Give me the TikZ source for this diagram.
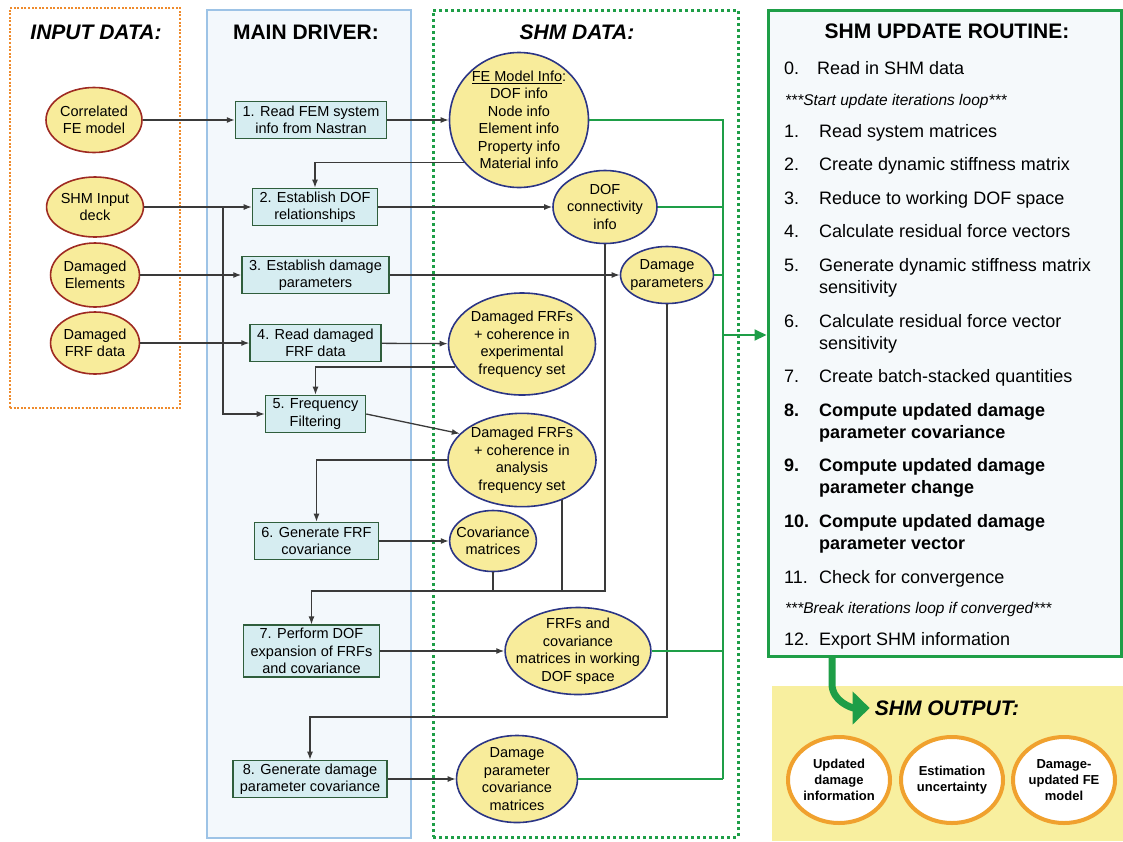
\documentclass[tikz,border=0pt]{standalone}
\usepackage{fontspec}
\setmainfont{Liberation Sans}
\usetikzlibrary{shapes.geometric,arrows.meta}

\definecolor{inorange}{HTML}{EF8B2C}
\definecolor{drvblue}{HTML}{9DC3E6}
\definecolor{drvfill}{HTML}{F3F8FC}
\definecolor{shmgreen}{HTML}{1E9E47}
\definecolor{routfill}{HTML}{F5F9FB}
\definecolor{outyellow}{HTML}{F8EF9F}
\definecolor{elyellow}{HTML}{F8EC9B}
\definecolor{inred}{HTML}{9E2A22}
\definecolor{elnavy}{HTML}{2B3585}
\definecolor{boxfill}{HTML}{D6EDF1}
\definecolor{boxgreen}{HTML}{2F5E3C}
\definecolor{outorange}{HTML}{F0A12E}
\definecolor{linegray}{HTML}{3A3A3A}

\begin{document}
\begin{tikzpicture}[x=1pt,y=-1pt,>={Latex[length=8pt,width=6pt]},
    every node/.style={font=\fontsize{14.5}{17.5}\selectfont},
    ptitle/.style={font=\fontsize{21}{25}\selectfont\bfseries},
    ititle/.style={font=\fontsize{21}{25}\selectfont\bfseries\itshape},
    indata/.style={ellipse,draw=inred,line width=1.6pt,fill=elyellow,align=center,inner sep=0pt},
    shmdata/.style={ellipse,draw=elnavy,line width=1.6pt,fill=elyellow,align=center,inner sep=0pt},
    drvbox/.style={draw=boxgreen,line width=1.6pt,fill=boxfill,align=center,inner xsep=7pt,inner ysep=3pt,minimum height=37pt},
    result/.style={ellipse,draw=outorange,line width=4pt,fill=white,align=center,inner sep=0pt,
        minimum width=102pt,minimum height=86pt,font=\fontsize{13}{16}\selectfont\bfseries},
    link/.style={draw=linegray,line width=1.3pt},
    glink/.style={draw=shmgreen,line width=2pt},
    num/.style={anchor=base west,inner sep=0pt,font=\fontsize{18}{22}\selectfont},
    item/.style={anchor=base west,inner sep=0pt,align=left,font=\fontsize{18}{22}\selectfont},
    bitem/.style={anchor=west,inner sep=0pt,align=left,font=\fontsize{18}{22}\selectfont\bfseries},
    note/.style={anchor=base west,inner sep=0pt,font=\fontsize{15.5}{18}\selectfont\itshape}]

    \useasboundingbox (0,0) rectangle (1123,841);

    \node[draw=inorange,line width=2pt,dash pattern=on 2pt off 1.6pt,minimum width=170pt,minimum height=400pt] (INP) at (95,208) {};
    \node[draw=drvblue,fill=drvfill,line width=1.5pt,minimum width=204pt,minimum height=828pt] (DRV) at (309,424) {};
    \node[draw=shmgreen,line width=3pt,dash pattern=on 3pt off 3pt,minimum width=305pt,minimum height=827pt] (SHM) at (585.5,423.5) {};
    \node[draw=shmgreen,fill=routfill,line width=3pt,minimum width=353pt,minimum height=646pt] (UR) at (944.5,333) {};
    \node[fill=outyellow,minimum width=351pt,minimum height=155pt] (OUT) at (947.5,763.5) {};

    \node[ititle] (INT) at (96,32) {INPUT DATA:};
    \node[ptitle] (DRT) at (306,32) {MAIN DRIVER:};
    \node[ititle] (SHT) at (577,32) {SHM DATA:};
    \node[ptitle] (URT) at (947,31) {SHM UPDATE ROUTINE:};
    \node[ititle,inner sep=1pt] (OT) at (947,708) {SHM OUTPUT:};

    \node[indata,minimum width=96pt,minimum height=65pt] (CFE) at (94,120) {Correlated\\FE model};
    \node[indata,minimum width=96pt,minimum height=60pt] (SID) at (95,207) {SHM Input\\deck};
    \node[indata,minimum width=87pt,minimum height=64pt] (DE) at (95,275) {Damaged\\Elements};
    \node[indata,minimum width=87pt,minimum height=62pt] (DFD) at (95,343) {Damaged\\FRF data};

    \node[drvbox] (B1) at (311,120) {1. Read FEM system\\info from Nastran};
    \node[drvbox] (B2) at (315,207) {2. Establish DOF\\relationships};
    \node[drvbox] (B3) at (315.5,275) {3. Establish damage\\parameters};
    \node[drvbox] (B4) at (315.5,343) {4. Read damaged\\FRF data};
    \node[drvbox] (B5) at (315.5,414) {5. Frequency\\Filtering};
    \node[drvbox] (B6) at (316.5,541) {6. Generate FRF\\covariance};
    \node[drvbox] (B7) at (311.5,651) {7. Perform DOF\\expansion of FRFs\\and covariance};
    \node[drvbox] (B8) at (310,779) {8. Generate damage\\parameter covariance};

    \node[shmdata,minimum width=139pt,minimum height=135pt,inner ysep=-3pt] (FEI) at (519,120)
        {\underline{FE Model Info}:\\DOF info\\Node info\\Element info\\Property info\\Material info};
    \node[shmdata,minimum width=104pt,minimum height=73pt,inner xsep=-2pt] (DOFC) at (605,207) {DOF\\connectivity\\info};
    \node[shmdata,minimum width=93pt,minimum height=57pt,inner xsep=-4pt] (DP) at (667,275) {Damage\\parameters};
    \node[shmdata,minimum width=147pt,minimum height=102pt] (FX) at (522,344) {Damaged FRFs\\+ coherence in\\experimental\\frequency set};
    \node[shmdata,minimum width=148pt,minimum height=92pt] (FA) at (522,460) {Damaged FRFs\\+ coherence in\\analysis\\frequency set};
    \node[shmdata,minimum width=86pt,minimum height=61pt,inner xsep=-6pt] (CM) at (493,541) {Covariance\\matrices};
    \node[shmdata,minimum width=145pt,minimum height=87pt,inner xsep=-10.5pt,inner ysep=-2.5pt] (FW) at (578,651)
        {FRFs and\\covariance\\matrices in working\\DOF space};
    \node[shmdata,minimum width=121pt,minimum height=87pt,inner ysep=-2.5pt] (DPC) at (517,779) {Damage\\parameter\\covariance\\matrices};

    \draw[link,->] (CFE) -- (B1);
    \draw[link,->] (B1) -- (FEI);
    \draw[link,->] (FEI.218) -| (B2.north);
    \draw[link,->] (SID) -- (B2);
    \coordinate (SPL) at (223,207);
    \draw[link,->] (SPL) |- (B5.west);
    \draw[link,->] (B2) -- (DOFC);
    \draw[link,->] (DE) -- (B3);
    \draw[link,->] (B3) -- (DP);
    \draw[link,->] (DFD) -- (B4);
    \draw[link,->] (B4) -- (FX);
    \draw[link,->] (FX.199) -| (B5.north);
    \draw[link,->] (B5.east) -- (FA.157);
    \draw[link,->] (FA.west) -| (B6.north);
    \draw[link,->] (B6) -- (CM);
    \coordinate (M7) at (605,591);
    \draw[link,->] (DOFC.south) -- (M7) -| (B7.north);
    \draw[link] (FA.-45) -- (FA.-45 |- M7);
    \draw[link] (CM.south) -- (CM.south |- M7);
    \draw[link,->] (B7) -- (FW);
    \coordinate (M8) at (667,717);
    \draw[link,->] (DP.south) -- (M8) -| (B8.north);
    \draw[link,->] (B8) -- (DPC);

    \coordinate (BUS) at (723,335);
    \draw[glink] (FEI) -- (FEI -| BUS) -- (DPC -| BUS);
    \draw[glink] (DOFC) -- (DOFC -| BUS);
    \draw[glink] (DP) -- (DP -| BUS);
    \draw[glink] (FW) -- (FW -| BUS);
    \draw[glink] (DPC) -- (DPC -| BUS);
    \draw[glink,-{Triangle[length=12pt,width=11pt]}] (BUS) -- (BUS -| UR.west);

    \foreach \n/\y in {0/74,1/137,2/170,3/204,4/237,5/271,6/327,7/382,11/583,12/645}
        \node[num] (N\n) at (784,\y) {\n.};
    \foreach \n/\y in {8/416,9/471,10/527}
        \node[num,font=\fontsize{18}{22}\selectfont\bfseries] (N\n) at (784,\y) {\n.};

    \node[item] (R0) at (817,74) {Read in SHM data};
    \node[note] (LS) at (785,105) {***Start update iterations loop***};
    \node[item] (R1) at (819,137) {Read system matrices};
    \node[item] (R2) at (819,170) {Create dynamic stiffness matrix};
    \node[item] (R3) at (819,204) {Reduce to working DOF space};
    \node[item] (R4) at (819,237) {Calculate residual force vectors};
    \node[item,anchor=west] (R5) at (819,277.4) {Generate dynamic stiffness matrix\\sensitivity};
    \node[item,anchor=west] (R6) at (819,333.4) {Calculate residual force vector\\sensitivity};
    \node[item] (R7) at (819,382) {Create batch-stacked quantities};
    \node[bitem] (R8) at (819,422.4) {Compute updated damage\\parameter covariance};
    \node[bitem] (R9) at (819,477.4) {Compute updated damage\\parameter change};
    \node[bitem] (R10) at (819,533.4) {Compute updated damage\\parameter vector};
    \node[item] (R11) at (819,583) {Check for convergence};
    \node[note] (LE) at (785,613) {***Break iterations loop if converged***};
    \node[item] (R12) at (819,645) {Export SHM information};

    \coordinate (UO) at (832,657);
    \draw[draw=shmgreen,line width=7pt,-{Triangle[length=17pt,width=32pt]}]
        (UO) -- ++(0,27) to[out=-90,in=180] ([xshift=-4pt]OT.west);

    \node[result] (U1) at (839,780) {Updated\\damage\\information};
    \node[result] (U2) at (952,780) {Estimation\\uncertainty};
    \node[result] (U3) at (1064,780) {Damage-\\updated FE\\model};
\end{tikzpicture}
\end{document}
